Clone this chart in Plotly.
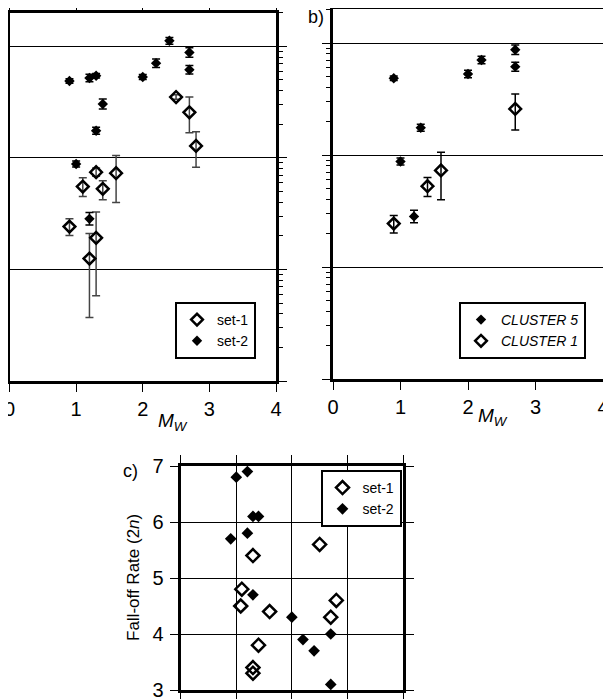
import math
import plotly.graph_objects as go

# the page body adds an 8px margin, so the figure is drawn 8px smaller and
# every reference pixel position is shifted by that amount
OFF = 8
W, H = 611 - OFF, 699 - OFF
FONT = "Liberation Sans, Arial, Helvetica, sans-serif"

# ---- panel a (log scale, no labels visible) ----
a_set1_mw = [0.9, 1.1, 1.2, 1.3, 1.3, 1.4, 1.6, 2.5, 2.7, 2.8]
a_set1_val = [2.42, 5.53, 1.25, 7.44, 1.92, 5.28, 7.29, 35.1, 25.6, 12.8]
a_set1_err_up = [0.43, 1.09, 0.85, 0.66, 1.35, 0.94, 3.2, 1.6, 9.5, 4.3]
a_set1_err_lo = [0.41, 1.02, 0.88, 0.61, 1.34, 1.07, 3.3, 1.5, 8.8, 4.56]

a_set2_mw = [0.9, 1.0, 1.2, 1.2, 1.3, 1.3, 1.4, 2.0, 2.2, 2.4, 2.7, 2.7]
a_set2_val = [48.8, 8.8, 52, 2.84, 54.5, 17.5, 30.4, 53, 70.6, 112, 87.9, 61.6]
a_set2_err_up = [2.3, 0.56, 4.1, 0.39, 2.6, 1.3, 3.3, 2.8, 6.4, 8, 9, 5.8]
a_set2_err_lo = [2.2, 0.53, 3.8, 0.34, 2.4, 1.2, 3.0, 2.6, 5.9, 7.5, 8.1, 5.3]

# ---- panel b ----
c5_mw = [0.9, 1.0, 1.2, 1.3, 2.0, 2.2, 2.7, 2.7]
c5_val = [48.4, 8.75, 2.83, 17.5, 52.9, 70.5, 87, 61.5]
c5_err_up = [2.3, 0.65, 0.39, 1.3, 4.2, 5.6, 9.0, 5.9]
c5_err_lo = [2.2, 0.6, 0.34, 1.2, 3.9, 5.2, 8.2, 5.4]

c1_mw = [0.9, 1.4, 1.6, 2.7]
c1_val = [2.44, 5.27, 7.28, 25.8]
c1_err_up = [0.45, 1.03, 3.3, 9.3]
c1_err_lo = [0.43, 1.0, 3.29, 9.1]

# ---- panel c: fall-off rate ----
c_set1_mw = [1.08, 1.1, 1.3, 1.3, 1.3, 1.4, 1.6, 2.5, 2.7, 2.8]
c_set1_rate = [4.5, 4.8, 5.4, 3.4, 3.3, 3.8, 4.4, 5.6, 4.3, 4.6]
c_set2_mw = [0.9, 1.0, 1.2, 1.2, 1.3, 1.3, 1.4, 2.0, 2.2, 2.4, 2.7, 2.7]
c_set2_rate = [5.7, 6.8, 6.9, 5.8, 6.1, 4.7, 6.1, 4.3, 3.9, 3.7, 4.0, 3.1]

mw_ticks = [0, 1, 2, 3, 4]


def px(x):
    return max(0.0, (x - OFF) / W)


def py(y):
    return min(1.0, 1 - (y - OFF) / H)


def err(up, lo, color):
    return dict(type="data", symmetric=False, array=up, arrayminus=lo,
                color=color, thickness=1.5, width=4)


fig = go.Figure()

open_mk = dict(symbol="diamond-open", size=9, color="black", line=dict(width=2.5, color="black"))
fill_mk = dict(symbol="diamond", size=8, color="black", line=dict(width=0))

fig.add_trace(go.Scatter(x=a_set1_mw, y=a_set1_val, mode="markers", name="set-1",
                         marker=open_mk, error_y=err(a_set1_err_up, a_set1_err_lo, "#444"),
                         xaxis="x", yaxis="y", legend="legend"))
fig.add_trace(go.Scatter(x=a_set2_mw, y=a_set2_val, mode="markers", name="set-2",
                         marker=fill_mk, error_y=err(a_set2_err_up, a_set2_err_lo, "black"),
                         xaxis="x", yaxis="y", legend="legend"))

fig.add_trace(go.Scatter(x=c5_mw, y=c5_val, mode="markers", name="<i>CLUSTER 5</i>",
                         marker=fill_mk, error_y=err(c5_err_up, c5_err_lo, "black"),
                         xaxis="x2", yaxis="y2", legend="legend2"))
fig.add_trace(go.Scatter(x=c1_mw, y=c1_val, mode="markers", name="<i>CLUSTER 1</i>",
                         marker=open_mk, error_y=err(c1_err_up, c1_err_lo, "black"),
                         xaxis="x2", yaxis="y2", legend="legend2"))

fig.add_trace(go.Scatter(x=c_set1_mw, y=c_set1_rate, mode="markers", name="set-1",
                         marker=dict(symbol="diamond-open", size=10, color="black",
                                     line=dict(width=2.5, color="black")),
                         xaxis="x3", yaxis="y3", legend="legend3"))
fig.add_trace(go.Scatter(x=c_set2_mw, y=c_set2_rate, mode="markers", name="set-2",
                         marker=dict(symbol="diamond", size=9, color="black"),
                         xaxis="x3", yaxis="y3", legend="legend3"))

frame = dict(showline=True, linecolor="black", linewidth=3, mirror="allticks",
             ticks="outside", ticklen=8, tickwidth=1, tickcolor="black", zeroline=False,
             automargin=False, ticklabeloverflow="allow")

xa = dict(frame, range=[0, 4], tickvals=mw_ticks, showgrid=False,
          tickfont=dict(family=FONT, size=20, color="black"), ticklabelstandoff=0)
ylog = dict(frame, type="log", range=[-1, math.log10(200)], dtick=1, showticklabels=False,
            showgrid=True, gridcolor="black", gridwidth=1,
            minor=dict(ticks="outside", ticklen=4, tickwidth=1, tickcolor="black", showgrid=False))

legend_style = dict(bordercolor="black", borderwidth=2, bgcolor="white",
                    font=dict(family=FONT, size=14, color="black"), itemwidth=30,
                    tracegroupgap=0)

fig.update_layout(
    width=W, height=H,
    margin=dict(l=0, r=0, t=0, b=0, pad=0, autoexpand=False),
    paper_bgcolor="white", plot_bgcolor="white",
    font=dict(family=FONT, color="black"),
    showlegend=True,
    xaxis=dict(xa, domain=[px(9.5), px(276)], anchor="y"),
    yaxis=dict(ylog, domain=[py(381), py(12.7)], anchor="x"),
    xaxis2=dict(xa, domain=[px(333), px(603)], anchor="y2"),
    yaxis2=dict(ylog, domain=[py(379), py(9.3)], anchor="x2"),
    xaxis3=dict(frame, range=[0, 4], tickvals=mw_ticks, showticklabels=False,
                showgrid=True, gridcolor="black", gridwidth=1,
                domain=[px(180.7), px(403)], anchor="y3"),
    yaxis3=dict(frame, range=[3, 7], dtick=1, showgrid=True, gridcolor="black", gridwidth=1,
                tickfont=dict(family=FONT, size=20, color="black"), ticklabelstandoff=2,
                domain=[py(690), py(466)], anchor="x3"),
    legend=dict(legend_style, x=px(256), y=py(359), xanchor="right", yanchor="bottom"),
    legend2=dict(legend_style, x=px(586), y=py(359), xanchor="right", yanchor="bottom"),
    legend3=dict(legend_style, x=px(401.5), y=py(470), xanchor="right", yanchor="top"),
    annotations=[
        dict(text="<i>M</i><sub><i>W</i></sub>", x=px(173), y=py(422), xref="paper", yref="paper",
             xanchor="center", yanchor="middle", showarrow=False, font=dict(size=19)),
        dict(text="<i>M</i><sub><i>W</i></sub>", x=px(493), y=py(417), xref="paper", yref="paper",
             xanchor="center", yanchor="middle", showarrow=False, font=dict(size=19)),
        dict(text="b)", x=px(316), y=1 + 3 / H, xref="paper", yref="paper",
             xanchor="center", yanchor="top", showarrow=False, font=dict(size=18)),
        dict(text="c)", x=px(131), y=py(471), xref="paper", yref="paper",
             xanchor="center", yanchor="middle", showarrow=False, font=dict(size=18)),
        dict(text="Fall-off Rate (2<i>n</i>)", x=px(133), y=py(578), xref="paper", yref="paper",
             xanchor="center", yanchor="middle", textangle=-90, showarrow=False,
             font=dict(size=17)),
    ],
)

fig.write_html("out.html")
